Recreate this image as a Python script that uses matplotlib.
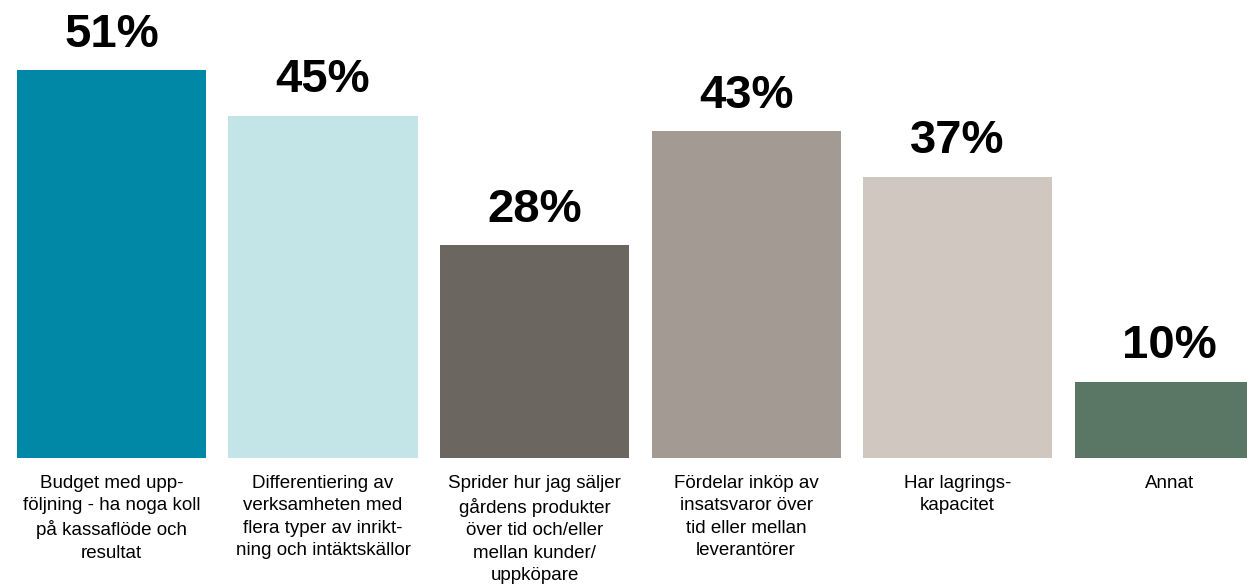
import numpy as np
import matplotlib.pyplot as plt

categories = [
    "Budget med upp-\nföljning - ha noga koll\npå kassaflöde och\nresultat",
    "Differentiering av\nverksamheten med\nflera typer av inrikt-\nning och intäktskällor",
    "Sprider hur jag säljer\ngårdens produkter\növer tid och/eller\nmellan kunder/\nuppköpare",
    "Fördelar inköp av\ninsatsvaror över\ntid eller mellan\nleverantörer",
    "Har lagrings-\nkapacitet",
    "Annat",
]
values = [51, 45, 28, 43, 37, 10]
colors = ["#0088a6", "#c3e5e8", "#6c6661", "#a39a94", "#d1c7c1", "#5a7664"]

fig = plt.figure(figsize=(12.47, 5.86), dpi=100)
ax = fig.add_axes([0, 128 / 586, 1, 458 / 586])

x = np.arange(len(values))
ax.bar(x, values, width=0.894, color=colors)

ax.set_xlim(-0.527, 5.368)
ax.set_ylim(0, 60.26)
ax.axis("off")

for xi, v, lab in zip(x, values, categories):
    ax.text(xi, v + 1.8, f"{v}%", ha="center", va="bottom",
            fontsize=34, fontweight="bold", family="Liberation Sans")
    ax.text(xi, -2.2, lab, ha="center", va="top", fontsize=13.5,
            family="Liberation Sans", linespacing=1.42, clip_on=False)

fig.savefig("out.png", dpi=100)
